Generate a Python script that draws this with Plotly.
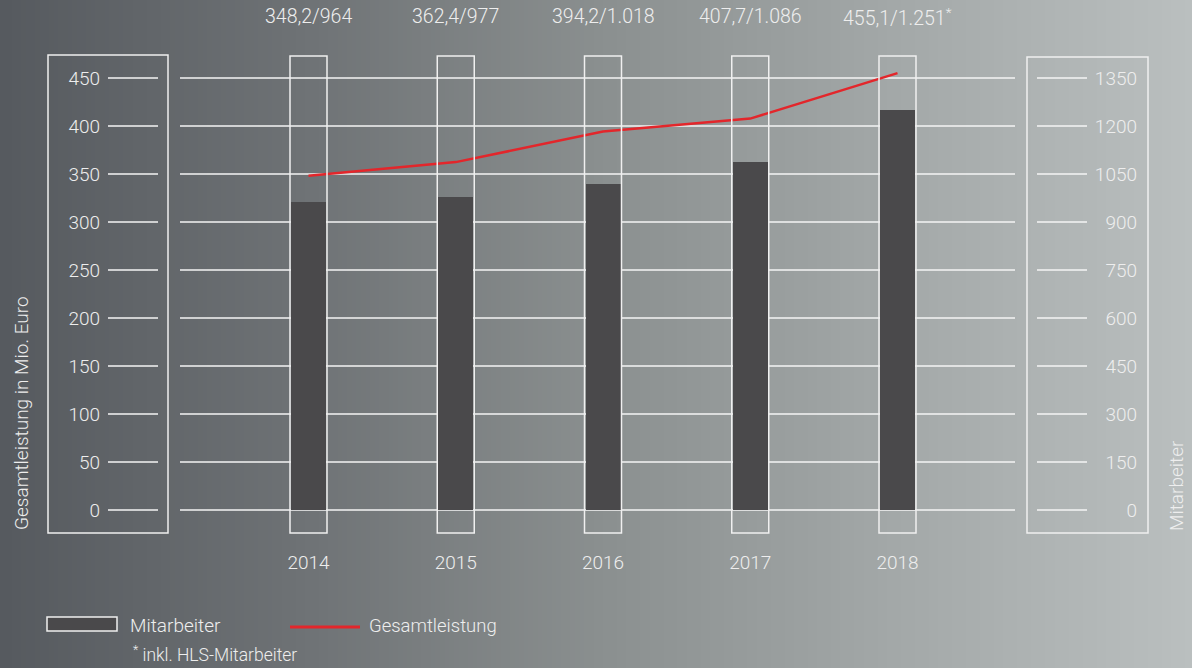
import base64, struct, zlib
import plotly.graph_objects as go

# ---------------- data ----------------
years = ["2014", "2015", "2016", "2017", "2018"]
gesamtleistung = [348.2, 362.4, 394.2, 407.7, 455.1]   # Mio. Euro (left axis)
mitarbeiter = [964, 977, 1018, 1086, 1251]              # employees (right axis)
footnote_marks = ["", "", "", "", "*"]
left_ticks = [0, 50, 100, 150, 200, 250, 300, 350, 400, 450]
right_ticks = [0, 150, 300, 450, 600, 750, 900, 1050, 1200, 1350]

W, H = 1192, 668
FONT = "Roboto"
TXT = "#eeeeee"
BAR = "#4a494b"
RED = "#e3262b"


def px(x):
    return x / W


def py(y):
    return 1 - y / H


def fmt_label(g, m, mark):
    gs = f"{g:.1f}".replace(".", ",")
    ms = f"{m:,}".replace(",", ".")
    return gs + "/" + ms + (f"<sup>{mark}</sup>" if mark else "")


# ---------------- background gradient (PNG data URI) ----------------
def make_png(w, h, rows):
    raw = b"".join(b"\x00" + bytes(r) for r in rows)

    def chunk(t, d):
        c = struct.pack(">I", len(d)) + t + d
        return c + struct.pack(">I", zlib.crc32(t + d) & 0xFFFFFFFF)

    return (b"\x89PNG\r\n\x1a\n" + chunk(b"IHDR", struct.pack(">IIBBBBB", w, h, 8, 2, 0, 0, 0))
            + chunk(b"IDAT", zlib.compress(raw, 9)) + chunk(b"IEND", b""))


stops = [(0.0, (86, 90, 95)), (0.25, (110, 114, 117)), (0.5, (138, 143, 143)),
         (0.75, (163, 168, 168)), (1.0, (186, 191, 191))]
GW = 256
row = []
for i in range(GW):
    t = i / (GW - 1)
    for k in range(len(stops) - 1):
        t0, c0 = stops[k]
        t1, c1 = stops[k + 1]
        if t0 <= t <= t1:
            f = (t - t0) / (t1 - t0)
            row.extend(int(round(c0[j] + (c1[j] - c0[j]) * f)) for j in range(3))
            break
bg_uri = "data:image/png;base64," + base64.b64encode(make_png(GW, 2, [row, row])).decode()

# ---------------- geometry ----------------
X_LEFT, X_RIGHT = 108, 1141
CENTER0, STEP = 308.5, 147.25
xr = [(X_LEFT - CENTER0) / STEP, (X_RIGHT - CENTER0) / STEP]
Y_ZERO, PX_PER_UNIT = 510, 0.96
Y_BOTTOM = 545
yr = [-(Y_BOTTOM - Y_ZERO) / PX_PER_UNIT, Y_ZERO / PX_PER_UNIT]
y2r = [v * 3 for v in yr]

fig = go.Figure()
fig.add_trace(go.Bar(x=years, y=mitarbeiter, yaxis="y2", width=35 / STEP,
                     marker=dict(color=BAR, line=dict(width=0)), name="Mitarbeiter",
                     showlegend=False, hoverinfo="skip"))
fig.add_trace(go.Scatter(x=years, y=gesamtleistung, mode="lines",
                         line=dict(color=RED, width=2.5), name="Gesamtleistung",
                         showlegend=False, hoverinfo="skip"))

shapes = []
# grid lines (broken segments)
for v in left_ticks:
    for a, b in [(108, 158), (180, 1015), (1037, 1087)]:
        shapes.append(dict(type="line", xref="paper", yref="y", x0=px(a), x1=px(b), y0=v, y1=v,
                           line=dict(color="#f4f4f4", width=1.5), layer="below"))
# axis frames
shapes.append(dict(type="rect", xref="paper", yref="paper", x0=px(48), x1=px(168), y0=py(533), y1=py(55),
                   line=dict(color="#f0f0f0", width=1.5)))
shapes.append(dict(type="rect", xref="paper", yref="paper", x0=px(1027), x1=px(1148), y0=py(533), y1=py(57),
                   line=dict(color="#f0f0f0", width=1.5)))
# bar frames
half = 37 / STEP / 2
for i in range(len(years)):
    shapes.append(dict(type="rect", xref="x", yref="paper", x0=i - half, x1=i + half,
                       y0=py(533), y1=py(56), line=dict(color="#f0f0f0", width=1.5)))
# legend symbols
shapes.append(dict(type="rect", xref="paper", yref="paper", x0=px(47), x1=px(117), y0=py(631), y1=py(617),
                   fillcolor=BAR, line=dict(color="#f0f0f0", width=1.5)))
shapes.append(dict(type="line", xref="paper", yref="paper", x0=px(290), x1=px(360), y0=py(627), y1=py(627),
                   line=dict(color=RED, width=3)))

annotations = []
for i, (g, m, mk) in enumerate(zip(gesamtleistung, mitarbeiter, footnote_marks)):
    annotations.append(dict(x=i, xref="x", y=py(17), yref="paper", text=fmt_label(g, m, mk),
                            showarrow=False, xanchor="center", yanchor="middle",
                            font=dict(family=FONT, size=19.5, color=TXT, weight=300)))
annotations += [
    dict(x=px(21), y=py(413), xref="paper", yref="paper", text="Gesamtleistung in Mio. Euro",
         textangle=-90, showarrow=False, xanchor="center", yanchor="middle",
         font=dict(family=FONT, size=19, color=TXT, weight=300)),
    dict(x=px(1176), y=py(486), xref="paper", yref="paper", text="Mitarbeiter",
         textangle=-90, showarrow=False, xanchor="center", yanchor="middle",
         font=dict(family=FONT, size=19, color=TXT, weight=300)),
    dict(x=px(128), y=py(625), xref="paper", yref="paper", text="Mitarbeiter",
         showarrow=False, xanchor="left", yanchor="middle",
         font=dict(family=FONT, size=19, color=TXT, weight=300)),
    dict(x=px(367), y=py(626), xref="paper", yref="paper", text="Gesamtleistung",
         showarrow=False, xanchor="left", yanchor="middle",
         font=dict(family=FONT, size=18.5, color=TXT, weight=300)),
    dict(x=px(131), y=py(654), xref="paper", yref="paper", text="<sup>*</sup> inkl. HLS-Mitarbeiter",
         showarrow=False, xanchor="left", yanchor="middle",
         font=dict(family=FONT, size=17.5, color=TXT, weight=300)),
]

fig.update_layout(
    width=W, height=H, margin=dict(l=0, r=0, t=0, b=0),
    paper_bgcolor="#8a8e8e", plot_bgcolor="rgba(0,0,0,0)",
    images=[dict(source=bg_uri, xref="paper", yref="paper", x=0, y=1, sizex=1, sizey=1,
                 sizing="stretch", layer="below", xanchor="left", yanchor="top")],
    xaxis=dict(type="category", domain=[px(X_LEFT), px(X_RIGHT)], range=xr,
               showgrid=False, zeroline=False, showline=False, ticks="",
               tickfont=dict(family=FONT, size=19, color=TXT, weight=300), ticklabelstandoff=4),
    yaxis=dict(domain=[py(Y_BOTTOM), 1], range=yr, tickvals=left_ticks,
               showgrid=False, zeroline=False, showline=False, ticks="",
               tickfont=dict(family=FONT, size=19, color=TXT, weight=300), ticklabelstandoff=7),
    yaxis2=dict(overlaying="y", side="right", range=y2r, tickvals=right_ticks,
                showgrid=False, zeroline=False, showline=False, ticks="",
                ticklabelposition="inside",
                tickfont=dict(family=FONT, size=19, color=TXT, weight=300), ticklabelstandoff=1),
    shapes=shapes, annotations=annotations, showlegend=False, bargap=0,
)

fig.write_html("out.html", config={"displayModeBar": False, "staticPlot": True})

# remove the default page margin so the figure sits at the window's top-left corner
with open("out.html", "r", encoding="utf-8") as fh:
    html = fh.read()
html = html.replace("<head>", "<head><style>html,body{margin:0;padding:0;overflow:hidden;}</style>", 1)
with open("out.html", "w", encoding="utf-8") as fh:
    fh.write(html)
